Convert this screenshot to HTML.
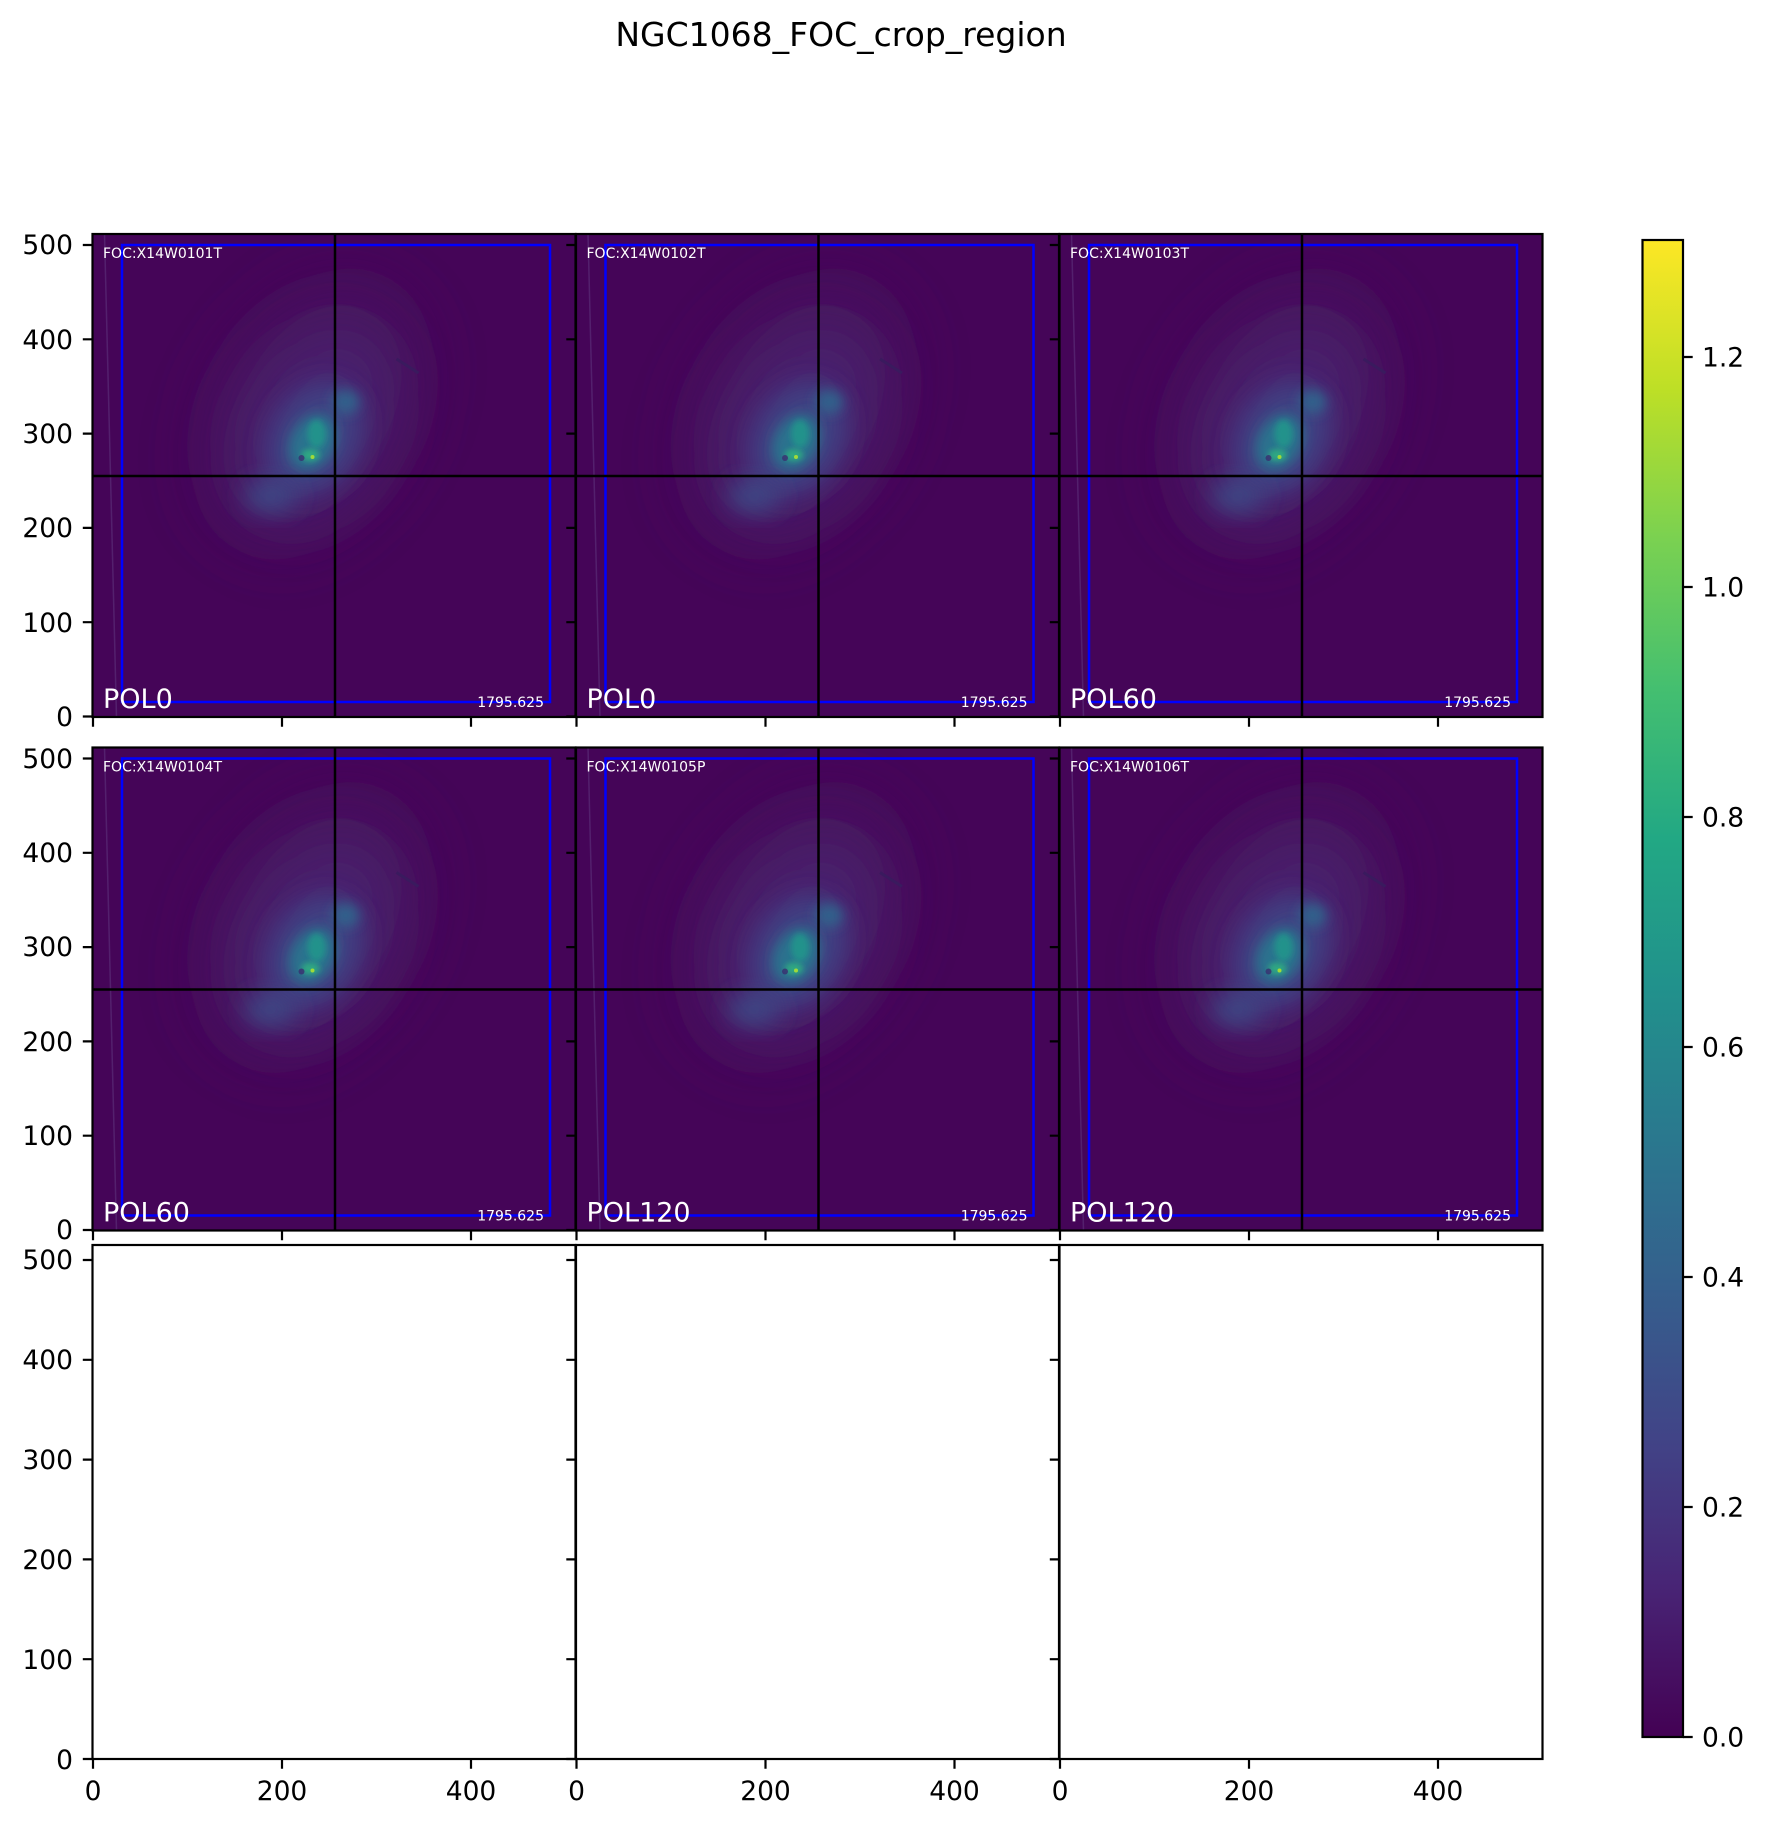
<!DOCTYPE html>
<html><head><meta charset="utf-8"><style>
html,body{margin:0;padding:0;background:#fff;}
svg{display:block;font-family:"DejaVu Sans","Liberation Sans",sans-serif;}
</style></head><body>
<svg width="1766" height="1827" viewBox="0 0 1766 1827" xmlns="http://www.w3.org/2000/svg">
<defs>
<filter id="b1" x="-50%" y="-50%" width="200%" height="200%"><feGaussianBlur stdDeviation="30"/></filter>
<filter id="b2" x="-50%" y="-50%" width="200%" height="200%"><feGaussianBlur stdDeviation="12"/></filter>
<filter id="b3" x="-50%" y="-50%" width="200%" height="200%"><feGaussianBlur stdDeviation="6"/></filter>
<filter id="b4" x="-50%" y="-50%" width="200%" height="200%"><feGaussianBlur stdDeviation="3"/></filter>
<clipPath id="pc"><rect x="0" y="0" width="483" height="483"/></clipPath>
<linearGradient id="vir" x1="0" y1="1" x2="0" y2="0">
<stop offset="0" stop-color="#440154"/><stop offset="0.1" stop-color="#482475"/>
<stop offset="0.2" stop-color="#414487"/><stop offset="0.3" stop-color="#355f8d"/>
<stop offset="0.4" stop-color="#2a788e"/><stop offset="0.5" stop-color="#21918c"/>
<stop offset="0.6" stop-color="#22a884"/><stop offset="0.7" stop-color="#44bf70"/>
<stop offset="0.8" stop-color="#7ad151"/><stop offset="0.9" stop-color="#bddf26"/>
<stop offset="1" stop-color="#fde725"/></linearGradient>
<g id="img">
<g clip-path="url(#pc)">
<rect x="0" y="0" width="483" height="483" fill="#450558"/>
<ellipse cx="220" cy="180" rx="95" ry="140" fill="#47145f" filter="url(#b1)" transform="rotate(30 220 180)"/>
<ellipse cx="222" cy="190" rx="65" ry="100" fill="#48226f" filter="url(#b1)" transform="rotate(30 222 190)"/>
<ellipse cx="222" cy="205" rx="45" ry="60" fill="#3f3f82" filter="url(#b2)" transform="rotate(30 222 205)"/>
<ellipse cx="178" cy="262" rx="26" ry="16" fill="#3d4886" filter="url(#b2)"/>
<ellipse cx="253" cy="168" rx="14" ry="12" fill="#33608b" filter="url(#b3)"/>
<ellipse cx="220" cy="208" rx="22" ry="30" fill="#2c728e" filter="url(#b3)" transform="rotate(30 220 208)"/>
<ellipse cx="224" cy="200" rx="9" ry="14" fill="#24928b" filter="url(#b4)"/>
<ellipse cx="218" cy="221" rx="9" ry="6" fill="#2fa882" filter="url(#b4)"/>
<circle cx="220" cy="223" r="2" fill="#a0da3a"/>
<circle cx="209" cy="224" r="3" fill="#3a2d70" opacity="0.8"/>
<line x1="304" y1="125" x2="326" y2="139" stroke="#3a1a5e" stroke-width="3"/>
<line x1="12" y1="0" x2="24" y2="483" stroke="#6a4a8e" stroke-width="1.5" opacity="0.4"/>
<rect x="29.5" y="11" width="428" height="457" fill="none" stroke="#0000ff" stroke-width="2.5"/>
<line x1="242.5" y1="0" x2="242.5" y2="483" stroke="#000" stroke-width="2.5"/>
<line x1="0" y1="242" x2="483" y2="242" stroke="#000" stroke-width="2.5"/>
</g></g>
</defs>

<text x="841" y="46" font-size="33" text-anchor="middle">NGC1068_FOC_crop_region</text>

<use href="#img" x="92.5" y="234"/>
<use href="#img" x="576" y="234"/>
<use href="#img" x="1059.5" y="234"/>
<use href="#img" x="92.5" y="747.5"/>
<use href="#img" x="576" y="747.5"/>
<use href="#img" x="1059.5" y="747.5"/>

<g fill="#fff" font-size="14">
<text x="103" y="258">FOC:X14W0101T</text>
<text x="586.5" y="258">FOC:X14W0102T</text>
<text x="1070" y="258">FOC:X14W0103T</text>
<text x="103" y="771.5">FOC:X14W0104T</text>
<text x="586.5" y="771.5">FOC:X14W0105P</text>
<text x="1070" y="771.5">FOC:X14W0106T</text>
<g text-anchor="end">
<text x="544" y="707">1795.625</text><text x="1027.5" y="707">1795.625</text><text x="1511" y="707">1795.625</text>
<text x="544" y="1220.5">1795.625</text><text x="1027.5" y="1220.5">1795.625</text><text x="1511" y="1220.5">1795.625</text>
</g>
<g font-size="27">
<text x="103" y="708">POL0</text><text x="586.5" y="708">POL0</text><text x="1070" y="708">POL60</text>
<text x="103" y="1221.5">POL60</text><text x="586.5" y="1221.5">POL120</text><text x="1070" y="1221.5">POL120</text>
</g></g>

<g fill="none" stroke="#000" stroke-width="2.2">
<rect x="92.5" y="234" width="483" height="483"/><rect x="576" y="234" width="483" height="483"/><rect x="1059.5" y="234" width="483" height="483"/>
<rect x="92.5" y="747.5" width="483" height="483"/><rect x="576" y="747.5" width="483" height="483"/><rect x="1059.5" y="747.5" width="483" height="483"/>
<rect x="92.5" y="1245" width="483" height="514"/><rect x="576" y="1245" width="483" height="514"/><rect x="1059.5" y="1245" width="483" height="514"/>
</g>

<g stroke="#000" stroke-width="2.2">
<path d="M92.5 716.5h-9.7M92.5 622.2h-9.7M92.5 527.9h-9.7M92.5 433.6h-9.7M92.5 339.3h-9.7M92.5 245h-9.7"/>
<path d="M576 716.5h-9.7M576 622.2h-9.7M576 527.9h-9.7M576 433.6h-9.7M576 339.3h-9.7M576 245h-9.7"/>
<path d="M1059.5 716.5h-9.7M1059.5 622.2h-9.7M1059.5 527.9h-9.7M1059.5 433.6h-9.7M1059.5 339.3h-9.7M1059.5 245h-9.7"/>
<path d="M92.5 1230h-9.7M92.5 1135.7h-9.7M92.5 1041.4h-9.7M92.5 947.1h-9.7M92.5 852.8h-9.7M92.5 758.5h-9.7"/>
<path d="M576 1230h-9.7M576 1135.7h-9.7M576 1041.4h-9.7M576 947.1h-9.7M576 852.8h-9.7M576 758.5h-9.7"/>
<path d="M1059.5 1230h-9.7M1059.5 1135.7h-9.7M1059.5 1041.4h-9.7M1059.5 947.1h-9.7M1059.5 852.8h-9.7M1059.5 758.5h-9.7"/>
<path d="M92.5 1759h-9.7M92.5 1659.2h-9.7M92.5 1559.4h-9.7M92.5 1459.6h-9.7M92.5 1359.8h-9.7M92.5 1260h-9.7"/>
<path d="M576 1759h-9.7M576 1659.2h-9.7M576 1559.4h-9.7M576 1459.6h-9.7M576 1359.8h-9.7M576 1260h-9.7"/>
<path d="M1059.5 1759h-9.7M1059.5 1659.2h-9.7M1059.5 1559.4h-9.7M1059.5 1459.6h-9.7M1059.5 1359.8h-9.7M1059.5 1260h-9.7"/>
<path d="M93 717v9.7M282 717v9.7M471 717v9.7M576.5 717v9.7M765.5 717v9.7M954.5 717v9.7M1060 717v9.7M1249 717v9.7M1438 717v9.7"/>
<path d="M93 1230.5v9.7M282 1230.5v9.7M471 1230.5v9.7M576.5 1230.5v9.7M765.5 1230.5v9.7M954.5 1230.5v9.7M1060 1230.5v9.7M1249 1230.5v9.7M1438 1230.5v9.7"/>
<path d="M93 1759v9.7M282 1759v9.7M471 1759v9.7M576.5 1759v9.7M765.5 1759v9.7M954.5 1759v9.7M1060 1759v9.7M1249 1759v9.7M1438 1759v9.7"/>
</g>

<g font-size="26.5" text-anchor="end">
<text x="73" y="726">0</text><text x="73" y="632">100</text><text x="73" y="537">200</text><text x="73" y="443">300</text><text x="73" y="349">400</text><text x="73" y="254">500</text>
<text x="73" y="1239">0</text><text x="73" y="1145">100</text><text x="73" y="1051">200</text><text x="73" y="956">300</text><text x="73" y="862">400</text><text x="73" y="768">500</text>
<text x="73" y="1769">0</text><text x="73" y="1669">100</text><text x="73" y="1569">200</text><text x="73" y="1469">300</text><text x="73" y="1369">400</text><text x="73" y="1269">500</text>
</g>
<g font-size="26.5" text-anchor="middle">
<text x="93" y="1800">0</text><text x="282" y="1800">200</text><text x="471" y="1800">400</text>
<text x="576.5" y="1800">0</text><text x="765.5" y="1800">200</text><text x="954.5" y="1800">400</text>
<text x="1060" y="1800">0</text><text x="1249" y="1800">200</text><text x="1438" y="1800">400</text>
</g>

<rect x="1642.5" y="240" width="40.5" height="1497" fill="url(#vir)" stroke="#000" stroke-width="2.2"/>
<path stroke="#000" stroke-width="2.2" d="M1683 1737h9.7M1683 1507h9.7M1683 1277h9.7M1683 1047h9.7M1683 817h9.7M1683 587h9.7M1683 357h9.7"/>
<g font-size="26.5">
<text x="1702" y="1746.5">0.0</text><text x="1702" y="1516.5">0.2</text><text x="1702" y="1286.5">0.4</text><text x="1702" y="1056.5">0.6</text><text x="1702" y="826.5">0.8</text><text x="1702" y="596.5">1.0</text><text x="1702" y="366.5">1.2</text>
</g>
</svg>
</body></html>
